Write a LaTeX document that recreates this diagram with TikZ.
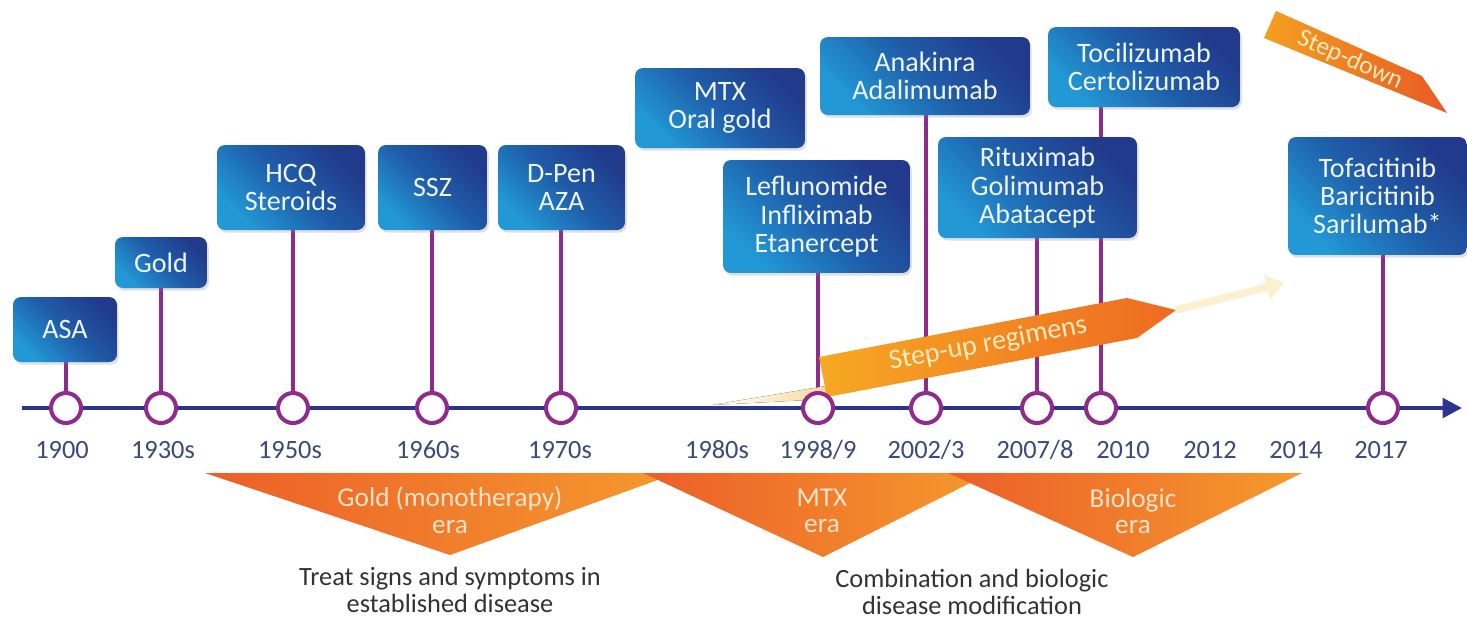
\documentclass[tikz,border=0pt]{standalone}
\usepackage{fontspec}
\setmainfont{Carlito}
\usetikzlibrary{arrows.meta,shadows}

\definecolor{boxlight}{HTML}{2299D6}
\definecolor{boxmid}{HTML}{1F5EAA}
\definecolor{boxdark}{HTML}{213A8B}
\definecolor{boxtext}{HTML}{EEF4FB}
\definecolor{stemcol}{HTML}{8E2B8C}
\definecolor{linecol}{HTML}{2B358F}
\definecolor{yearcol}{HTML}{3B4A7C}
\definecolor{capcol}{HTML}{333333}
\definecolor{eraA}{HTML}{EC5E28}
\definecolor{eraB}{HTML}{F59A2E}
\definecolor{eratext}{HTML}{FDE3CC}
\definecolor{upA}{HTML}{F6A823}
\definecolor{upB}{HTML}{EF6A22}
\definecolor{uptext}{HTML}{FDEBC0}
\definecolor{paleyel}{HTML}{FBF0CF}
\definecolor{dnA}{HTML}{F4A020}
\definecolor{dnB}{HTML}{E85A25}

\pgfdeclarelayer{back}
\pgfsetlayers{back,main}

\begin{document}
\begin{tikzpicture}[x=0.02cm,y=-0.02cm,
  medbox/.style={rounded corners=4.5pt, inner sep=0pt,
    left color=boxlight, right color=boxdark, middle color=boxmid,
    shading angle=135, text=boxtext, align=center,
    font=\fontsize{16}{16}\selectfont,
    drop shadow={shadow xshift=1pt, shadow yshift=-1.5pt, opacity=0.25}},
  milestone/.style={circle, draw=stemcol, line width=2.3pt, fill=white,
    minimum size=0.6cm, inner sep=0pt},
  stem/.style={draw=stemcol, line width=2.4pt},
  year/.style={text=yearcol, font=\fontsize{15}{15}\selectfont, inner sep=0pt},
  eralabel/.style={text=eratext, align=center, font=\fontsize{15.5}{15}\selectfont},
  caption/.style={text=capcol, align=center, font=\fontsize{15}{15.5}\selectfont},
  bandtext/.style={font=\fontsize{16}{16}\selectfont}]

\useasboundingbox (0,0) rectangle (1467,620);

% timeline ends
\coordinate (tlstart) at (22,408);
\coordinate (tlend) at (1462,408);

% milestones on the timeline
\node[milestone] (c1900) at (66,408) {};
\node[milestone] (c1930) at (161,408) {};
\node[milestone] (c1950) at (293,408) {};
\node[milestone] (c1960) at (432,408) {};
\node[milestone] (c1970) at (561,408) {};
\node[milestone] (c1998) at (818,408) {};
\node[milestone] (c2002) at (926,408) {};
\node[milestone] (c2007) at (1037,408) {};
\node[milestone] (c2010) at (1101,408) {};
\node[milestone] (c2017) at (1383,408) {};

% drug boxes
\node[medbox, minimum width=2.08cm, minimum height=1.30cm] (asa) at (65,329.5) {ASA};
\node[medbox, minimum width=1.84cm, minimum height=1.02cm] (gold) at (161,262.5) {Gold};
\node[medbox, minimum width=2.96cm, minimum height=1.70cm] (hcq) at (291,187.5) {HCQ\\Steroids};
\node[medbox, minimum width=2.18cm, minimum height=1.70cm] (ssz) at (432.5,187.5) {SSZ};
\node[medbox, minimum width=2.54cm, minimum height=1.70cm] (dpen) at (561.5,187.5) {D-Pen\\AZA};
\node[medbox, minimum width=3.40cm, minimum height=1.60cm] (mtx) at (720,108) {MTX\\Oral gold};
\node[medbox, minimum width=3.74cm, minimum height=2.26cm] (lef) at (816.5,216.5) {Leflunomide\\Infliximab\\Etanercept};
\node[medbox, minimum width=4.20cm, minimum height=1.56cm] (ana) at (925,76) {Anakinra\\Adalimumab};
\node[medbox, minimum width=3.98cm, minimum height=2.02cm] (rit) at (1037.5,187.5) {Rituximab\\Golimumab\\Abatacept};
\node[medbox, minimum width=3.84cm, minimum height=1.60cm] (toc) at (1144,67) {Tocilizumab\\Certolizumab};
\node[medbox, minimum width=3.58cm, minimum height=2.36cm] (tof) at (1377.5,196) {Tofacitinib\\Baricitinib\\Sarilumab*};

\begin{pgfonlayer}{back}
  % page background
  \fill[white] (0,0) rectangle (1467,620);

  % stems from boxes down to the timeline
  \draw[stem] (c1900) -- (c1900 |- asa.south);
  \draw[stem] (c1930) -- (c1930 |- gold.south);
  \draw[stem] (c1950) -- (c1950 |- hcq.south);
  \draw[stem] (c1960) -- (c1960 |- ssz.south);
  \draw[stem] (c1970) -- (c1970 |- dpen.south);
  \draw[stem] (c1998) -- (c1998 |- lef.south);
  \draw[stem] (c2002) -- (c2002 |- ana.south);
  \draw[stem] (c2007) -- (c2007 |- rit.south);
  \draw[stem] (c2010) -- (c2010 |- toc.south);
  \draw[stem] (c2017) -- (c2017 |- tof.south);

  % step-up band with its fading tail and pale continuation
  \fill[left color=white, right color=upA!45] (712,405) -- (826,386) -- (827,399) -- cycle;
  \coordinate (uptip) at (1176,310);
  \coordinate (upend) at (1284,283);
  \draw[line width=4.5pt, draw=paleyel, -{Triangle[length=10pt,width=14pt,fill=paleyel]}] (uptip) -- (upend);
  \shade[left color=upA, right color=upB] (819,357) -- (1127,298) -- (uptip) -- (1137,338) -- (827,397) -- cycle;
  \node[bandtext, text=uptext, rotate=10.8] (stepup) at (988,344) {Step-up regimens};

  % timeline
  \draw[draw=linecol, line width=2.3pt, -{Triangle[length=11pt,width=11pt]}] (tlstart) -- (tlend);
\end{pgfonlayer}

% step-down band
\shade[left color=dnA, right color=dnB] (1276,11) -- (1422,76) -- (1447,113) -- (1264,38) -- cycle;
\node[bandtext, text=uptext, rotate=-24, font=\fontsize{14.5}{14.5}\selectfont] (stepdown) at (1350,60) {Step-down};

% year labels
\node[year] (y1900) at (62,450) {1900};
\node[year] (y1930) at (163,450) {1930s};
\node[year] (y1950) at (290,450) {1950s};
\node[year] (y1960) at (428,450) {1960s};
\node[year] (y1970) at (560,450) {1970s};
\node[year] (y1980) at (717,450) {1980s};
\node[year] (y1998) at (818,450) {1998/9};
\node[year] (y2002) at (926,450) {2002/3};
\node[year] (y2007) at (1035,450) {2007/8};
\node[year] (y2010) at (1123,450) {2010};
\node[year] (y2012) at (1210,450) {2012};
\node[year] (y2014) at (1296,450) {2014};
\node[year] (y2017) at (1381,450) {2017};

% treatment eras
\shade[left color=eraA, right color=eraB] (205,473) -- (677,473) -- (450,555) -- cycle;
\shade[left color=eraA, right color=eraB] (643,473) -- (990,473) -- (823,557) -- cycle;
\shade[left color=eraA, right color=eraB] (948,473) -- (1302,473) -- (1133,557) -- cycle;
\node[eralabel] (eragold) at (450,510) {Gold (monotherapy)\\era};
\node[eralabel] (eramtx) at (822,511) {MTX\\era};
\node[eralabel] (erabio) at (1133,511) {Biologic\\era};

% treatment goals
\node[caption] (goal1) at (450,590) {Treat signs and symptoms in\\established disease};
\node[caption] (goal2) at (972,592) {Combination and biologic\\disease modification};

\end{tikzpicture}
\end{document}
